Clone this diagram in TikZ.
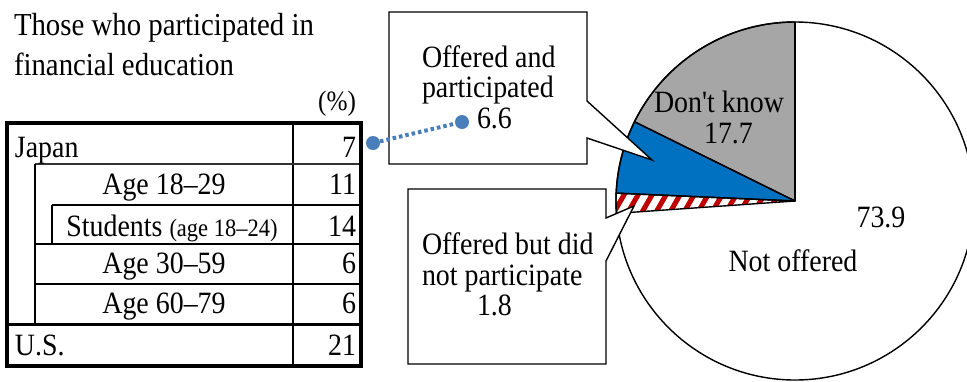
\documentclass[tikz,border=0pt]{standalone}
\usepackage{fontspec}
\setmainfont{Liberation Serif}[FakeStretch=0.9]
\newfontfamily\plainserif{Liberation Serif}[FakeStretch=0.9]
\definecolor{gslice}{HTML}{A6A6A6}
\definecolor{bslice}{HTML}{0070C0}
\definecolor{hred}{HTML}{C00000}
\definecolor{dotblue}{HTML}{4A7EBB}
\tikzset{
  txt/.style={inner sep=0pt, outer sep=0pt},
  tline/.style={line width=2.2pt, black},
  tframe/.style={line width=3.5pt, black},
  callout/.style={fill=white, draw=black, line width=1.4pt, line join=miter},
  slice/.style={draw=black, line width=1.4pt, line join=round},
  bdot/.style={circle, fill=dotblue, minimum size=14pt, inner sep=0pt},
  dotline/.style={dotblue, line width=4pt, dash pattern=on 3.5pt off 3pt},
}
\begin{document}
\begin{tikzpicture}[x=1pt,y=-1pt, font=\fontsize{31}{36}\selectfont]
\useasboundingbox (0,0) rectangle (967,381);
\fill[white] (0,0) rectangle (967,381);

% ---------- title ----------
\node[txt, anchor=base west, font=\fontsize{32}{36}\selectfont] (title1) at (14,35) {Those who participated in};
\node[txt, anchor=base west, font=\fontsize{32}{36}\selectfont] (title2) at (14,75) {financial education};
\node[txt, anchor=base east, font=\fontsize{28}{32}\selectfont] (pct) at (356,110) {(\%)};

% ---------- table ----------
\draw[tline] (293,123) -- (293,366);
\draw[tline, line width=1.8pt, black!80] (35,164) -- (361,164);
\draw[tline] (52,205) -- (361,205);
\draw[tline] (35,244) -- (361,244);
\draw[tline] (35,284) -- (361,284);
\draw[tline, line width=3pt] (7,324) -- (361,324);
\draw[tline] (35,164) -- (35,324);
\draw[tline] (52,205) -- (52,244);
\draw[tframe] (7,123) rectangle (361,366);

\node[txt, anchor=base west] (rJ) at (15,157) {Japan};
\node[txt, anchor=base] (rA1) at (164,194) {Age 18–29};
\node[txt, anchor=base] (rS) at (172,236) {Students {\fontsize{25}{30}\selectfont (age 18–24)}};
\node[txt, anchor=base] (rA2) at (164,273) {Age 30–59};
\node[txt, anchor=base] (rA3) at (164,313) {Age 60–79};
\node[txt, anchor=base west] (rU) at (15,355) {U.S.};

\node[txt, anchor=base east] (vJ) at (356,157) {7};
\node[txt, anchor=base east] (vA1) at (356,194) {11};
\node[txt, anchor=base east] (vS) at (356,236) {14};
\node[txt, anchor=base east] (vA2) at (356,273) {6};
\node[txt, anchor=base east] (vA3) at (356,313) {6};
\node[txt, anchor=base east] (vU) at (356,355) {21};

% ---------- pie ----------
\begin{scope}[x=1pt, y=1pt, xshift=795pt, yshift=-201pt]
  \fill[white] (0,0) circle[radius=179];
  \fill[gslice] (0,0) -- (90:179) arc[start angle=90, end angle=153.72, radius=179] -- cycle;
  \fill[bslice] (0,0) -- (153.72:179) arc[start angle=153.72, end angle=177.48, radius=179] -- cycle;
  \begin{scope}
    \clip (0,0) -- (177.48:179) arc[start angle=177.48, end angle=183.96, radius=179] -- cycle;
    \fill[white] (-190,-20) rectangle (10,20);
    \foreach \i in {-200,-186,...,10}
      \draw[hred, line width=5pt] (\i,-20) -- ++(23,40);
  \end{scope}
  \draw[slice] (0,0) -- (90:179) arc[start angle=90, end angle=153.72, radius=179] -- cycle;
  \draw[slice] (0,0) -- (153.72:179) arc[start angle=153.72, end angle=177.48, radius=179] -- cycle;
  \draw[slice] (0,0) -- (177.48:179) arc[start angle=177.48, end angle=183.96, radius=179] -- cycle;
  \draw[slice] (0,0) circle[radius=179];
  \draw[black, line width=2pt] (0,0) -- (90:179);
\end{scope}

\node[txt, anchor=base, font=\fontsize{31}{36}\plainserif] (dk1) at (719,112) {Don't know};
\node[txt, anchor=base] (dk2) at (728.5,143) {17.7};
\node[txt, anchor=base] (no1) at (881,227) {73.9};
\node[txt, anchor=base] (no2) at (793,271) {Not offered};

% ---------- callouts ----------
\draw[callout] (389,12) -- (587,12) -- (587,101) -- (652,160) -- (587,138) -- (587,164) -- (389,164) -- cycle;
\draw[callout] (408,189) -- (606,189) -- (606,218) -- (634,206) -- (606,261) -- (606,364) -- (408,364) -- cycle;

\node[txt, anchor=base west] (c1a) at (422,67) {Offered and};
\node[txt, anchor=base west] (c1b) at (422,97) {participated};
\node[txt, anchor=base west] (c1c) at (477,128) {6.6};
\node[txt, anchor=base west] (c2a) at (422,254) {Offered but did};
\node[txt, anchor=base west] (c2b) at (422,285) {not participate};
\node[txt, anchor=base west] (c2c) at (477,315) {1.8};

% ---------- dotted link ----------
\node[bdot] (d1) at (373,143) {};
\node[bdot] (d2) at (462,122) {};
\draw[dotline] (d1) -- (d2);
\end{tikzpicture}
\end{document}
